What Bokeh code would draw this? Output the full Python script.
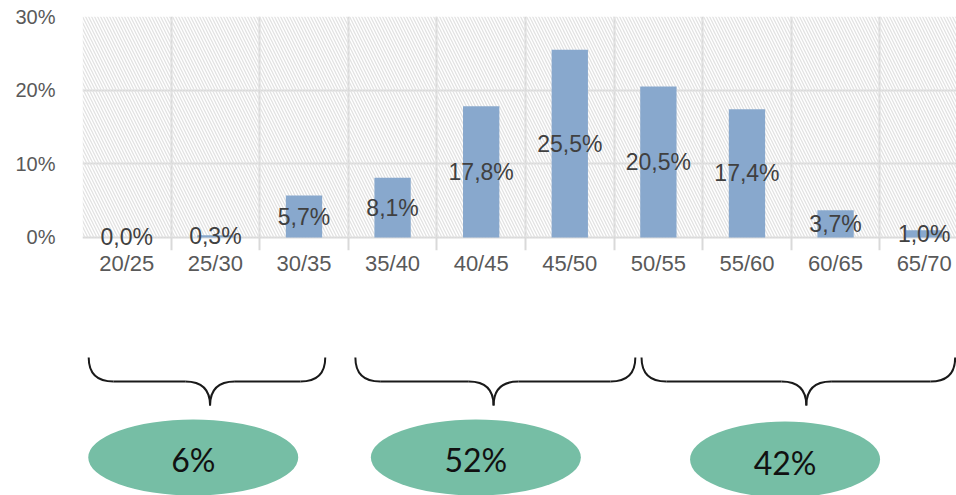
from bokeh.plotting import figure
from bokeh.models import Range1d, FixedTicker, BoxAnnotation, ColumnDataSource, LabelSet
from bokeh.layouts import column
from bokeh.core.properties import value
from bokeh.embed import file_html
from bokeh.resources import INLINE

# ---- data ----
categories = ["20/25", "25/30", "30/35", "35/40", "40/45", "45/50",
              "50/55", "55/60", "60/65", "65/70"]
values = [0.0, 0.3, 5.7, 8.1, 17.8, 25.5, 20.5, 17.4, 3.7, 1.0]
y_ticks = [0, 10, 20, 30]
y_tick_labels = ["0%", "10%", "20%", "30%"]
group_labels = ["6%", "52%", "42%"]

# ---- layout helpers (category units / page pixels) ----
brace_left = [0.07, 3.08, 6.31]
brace_right = [2.74, 6.24, 9.85]
brace_tip = [1.44, 4.64, 8.17]
ell_x = [1.25, 4.44, 7.93]
ell_w = [210, 210, 190]

FONT = "Liberation Sans"
GRID = "#d9d9d9"
XMAX = 9.865
YMIN = -1.765   # small room below 0 so the labels of tiny bars are not cut

xs = [i + 0.5 for i in range(len(categories))]
labels = [f"{v:.1f}".replace(".", ",") + "%" for v in values]

src = ColumnDataSource(dict(x=xs, top=values, mid=[v / 2 for v in values], lab=labels))

p = figure(width=956, height=280, x_range=Range1d(0, XMAX), y_range=Range1d(YMIN, 30),
           output_backend="svg", toolbar_location=None,
           min_border_left=82, min_border_right=0, min_border_top=16, min_border_bottom=30)
p.outline_line_color = None
p.background_fill_color = "white"
p.border_fill_color = "white"

hatch = BoxAnnotation(left=0, right=11, bottom=0, top=30, fill_color=None, line_color=None,
                      hatch_pattern="\\", hatch_color="#e2e2e2", hatch_scale=6,
                      hatch_weight=1.3, level="underlay")
p.add_layout(hatch)

p.xgrid.ticker = FixedTicker(ticks=list(range(len(categories) + 1)))
p.xgrid.grid_line_color = GRID
p.xgrid.grid_line_width = 2
p.xgrid.bounds = (0, 30)
p.ygrid.ticker = FixedTicker(ticks=y_ticks)
p.ygrid.grid_line_color = GRID
p.ygrid.grid_line_width = 2

p.yaxis.ticker = FixedTicker(ticks=y_ticks)
p.yaxis.major_label_overrides = {t: l for t, l in zip(y_ticks, y_tick_labels)}
p.yaxis.axis_line_color = None
p.yaxis.major_tick_line_color = None
p.yaxis.minor_tick_line_color = None
p.yaxis.major_label_text_font = FONT
p.yaxis.major_label_text_font_size = "20px"
p.yaxis.major_label_text_color = "#595959"
p.yaxis.major_label_standoff = 21

p.xaxis.ticker = FixedTicker(ticks=xs)
p.xaxis.major_label_overrides = {x: c for x, c in zip(xs, categories)}
p.xaxis.axis_line_color = None
p.xaxis.major_tick_line_color = None
p.xaxis.minor_tick_line_color = None
p.xaxis.major_label_text_font = FONT
p.xaxis.major_label_text_font_size = "22px"
p.xaxis.major_label_text_color = "#595959"
p.xaxis.major_label_standoff = -6

p.vbar(x="x", top="top", bottom=0, width=0.41, source=src,
       fill_color="#88a8cd", line_color=None)
p.add_layout(LabelSet(x="x", y="mid", text="lab", source=src, text_align="center",
                      text_baseline="middle", text_font=value(FONT), text_font_size="23px",
                      text_color="#404040"))

# ---- lower panel: braces and ellipses ----
q = figure(width=956, height=215, x_range=Range1d(0, XMAX), y_range=Range1d(495, 280),
           output_backend="svg", toolbar_location=None,
           x_axis_location=None, y_axis_location=None,
           min_border_left=82, min_border_right=0, min_border_top=0, min_border_bottom=0)
q.outline_line_color = None
q.grid.visible = False
q.background_fill_color = "white"
q.border_fill_color = "white"

y_top, y_mid, y_tip, rx = 357, 381, 405, 0.28
qx0, qy0, qx1, qy1, qcx, qcy = [], [], [], [], [], []
sx0, sy0, sx1, sy1 = [], [], [], []
for L, R, T in zip(brace_left, brace_right, brace_tip):
    for a, b, cx, cy in [((L, y_top), (L + rx, y_mid), L, y_mid),
                         ((T - rx, y_mid), (T, y_tip), T, y_mid),
                         ((T + rx, y_mid), (T, y_tip), T, y_mid),
                         ((R, y_top), (R - rx, y_mid), R, y_mid)]:
        qx0.append(a[0]); qy0.append(a[1]); qx1.append(b[0]); qy1.append(b[1])
        qcx.append(cx); qcy.append(cy)
    for a, b in [(L + rx, T - rx), (T + rx, R - rx)]:
        sx0.append(a); sy0.append(y_mid); sx1.append(b); sy1.append(y_mid)

q.quadratic(x0=qx0, y0=qy0, x1=qx1, y1=qy1, cx=qcx, cy=qcy,
            line_color="#1a1a1a", line_width=2)
q.segment(x0=sx0, y0=sy0, x1=sx1, y1=sy1, line_color="#1a1a1a", line_width=2)

q.ellipse(x=ell_x, y=[457, 457, 459], width=ell_w, height=[76, 76, 76],
          width_units="screen", height_units="screen",
          fill_color="#76bea5", line_color=None)
q.text(x=ell_x, y=[459, 459, 462], text=group_labels, text_align="center",
       text_baseline="middle", text_font=value("Lato"), text_font_size="32px",
       text_color="#111111")

layout = column(p, q, spacing=0)
open("out.html", "w").write(file_html(layout, INLINE))
